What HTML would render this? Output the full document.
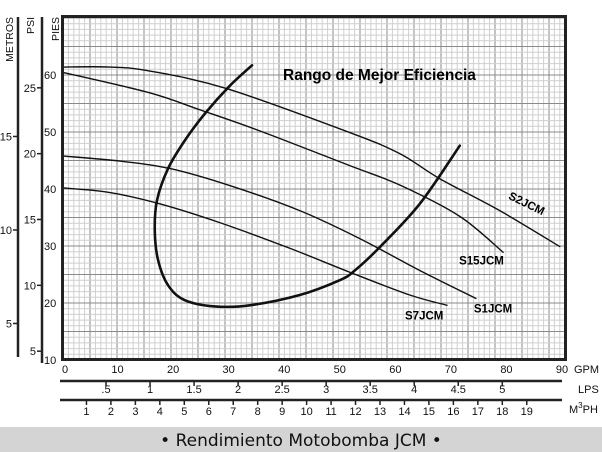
<!DOCTYPE html>
<html><head><meta charset="utf-8"><style>
body{margin:0;background:#fff;width:602px;height:452px;overflow:hidden}
svg{display:block;font-family:"Liberation Sans",sans-serif}
</style></head><body>
<svg id="c" width="602" height="452" viewBox="0 0 602 452">
<g id="grid"></g>
<g id="curves"></g>
<rect x="62.5" y="16.5" width="503" height="343" fill="none" stroke="#222" stroke-width="3"/>
<text x="283" y="80" font-size="15.5" font-weight="bold" fill="#000">Rango de Mejor Eficiencia</text>
<g id="axes"></g>
<rect x="0" y="427" width="602" height="25" fill="#d4d4d4"/>
<text x="301" y="446" font-size="17" text-anchor="middle" font-family="'DejaVu Sans',sans-serif" fill="#111">• Rendimiento Motobomba JCM •</text>
</svg>
<script>
const gpmTicks=[0,10,20,30,40,50,60,70,80,90];
const lpsTicks=[0.5,1,1.5,2,2.5,3,3.5,4,4.5,5];
const lpsLabels=[".5","1","1.5","2","2.5","3","3.5","4","4.5","5"];
const m3phTicks=[1,2,3,4,5,6,7,8,9,10,11,12,13,14,15,16,17,18,19];
const piesTicks=[10,20,30,40,50,60];
const psiTicks=[5,10,15,20,25];
const metrosTicks=[5,10,15];
const seriesNames=["S2JCM","S15JCM","S1JCM","S7JCM"];
const s2Gpm=[0,8.6,15.8,29.7,51.8,60.8,68,78.8,89.6];
const s2Ft=[61.4,61.4,60.7,57.6,49.9,46.2,41.8,36.2,29.9];
const s15Gpm=[0,15.7,24.8,35.6,51.8,60.8,71.6,79.4];
const s15Ft=[60.5,56.9,53.9,50.2,44.1,40.7,35.2,28.9];
const s1Gpm=[0,10.4,19.4,30.2,42.8,53.6,64.4,74.5];
const s1Ft=[45.8,44.9,43.6,40.6,36.2,31.3,25.7,20.8];
const s7Gpm=[0,8.5,17.6,28.4,41,51.8,62.6,69.3];
const s7Ft=[40.2,39.4,37.4,34.1,29.6,25.4,21.4,19.6];
const effGpm=[34.2,30.2,25.7,22.1,19.1,17.1,16.7,17.3,19.1,22.1,27.5,33.8,42.8,50,52.7,57.2,64.4,71.6];
const effFt=[61.7,58.1,53.2,48.5,43.6,38,32.7,27.5,23.1,20.5,19.4,19.6,21.4,24,25.7,29.8,37.4,47.6];

const NS="http://www.w3.org/2000/svg";
const X0=62,X1=562,Y0=360,Y1=18;
const xG=g=>X0+g*(X1-X0)/90;
const yF=f=>Y0-(f-10)*(Y0-Y1)/60;
const xL=l=>xG(l*15.85);
const xM=m=>xG(m*4.403);
const yPsi=p=>yF(p*2.31);
const yM=m=>yF(m*3.281);
function el(t,a,p){const e=document.createElementNS(NS,t);for(const k in a)e.setAttribute(k,a[k]);p.appendChild(e);return e;}
const grid=document.getElementById('grid'),curves=document.getElementById('curves'),axes=document.getElementById('axes');
// grid
for(let i=0;i*5.4<=503;i++){const x=63+i*5.4;const mj=i%5===0;
 const l=el('line',{x1:x,x2:x,y1:17,y2:359,stroke:mj?'#8a8a8a':'#cfcfcf','stroke-width':1},grid);
 }
for(let f=10;f<=70;f++){const y=yF(f);const mj=f%5===0;
 const l=el('line',{x1:63,x2:565,y1:y,y2:y,stroke:mj?'#8a8a8a':'#cfcfcf','stroke-width':1},grid);
 }
function smooth(px){let d=`M${px[0][0]},${px[0][1]}`;for(let i=0;i<px.length-1;i++){const p0=px[i-1]||px[i],p1=px[i],p2=px[i+1],p3=px[i+2]||p2;
 d+=` C${p1[0]+(p2[0]-p0[0])/6},${p1[1]+(p2[1]-p0[1])/6} ${p2[0]-(p3[0]-p1[0])/6},${p2[1]-(p3[1]-p1[1])/6} ${p2[0]},${p2[1]}`;}return d;}
function curve(gs,fs,w,name){const pts=gs.map((g,i)=>[xG(g),yF(fs[i])]);
 const p=el('path',{d:smooth(pts),fill:'none',stroke:'#111','stroke-width':w,'stroke-linecap':'round'},curves);
 return pts;}
const sData=[[s2Gpm,s2Ft],[s15Gpm,s15Ft],[s1Gpm,s1Ft],[s7Gpm,s7Ft]];
const ends=sData.map((s,i)=>curve(s[0],s[1],1.4,'curve-'+seriesNames[i].toLowerCase()));
curve(effGpm,effFt,2.6,'best-efficiency-curve');
// series labels
const lblOff=[[-52,-48,26],[-44,12,0],[-2,14,0],[-42,14,0]];
ends.forEach((pts,i)=>{const e=pts[pts.length-1];const o=lblOff[i];
 const t=el('text',{x:e[0]+o[0],y:e[1]+o[1],'font-size':11.5,'font-weight':'bold',fill:'#000'},curves);
 if(o[2])t.setAttribute('transform',`rotate(${o[2]} ${e[0]+o[0]} ${e[1]+o[1]})`);
 t.textContent=seriesNames[i];
 });
// left axes
function axLine(x,y1,y2,name){const l=el('line',{x1:x,x2:x,y1:y1,y2:y2,stroke:'#222','stroke-width':2.5},axes);}
axLine(18,17,357,'metros-axis-line');axLine(42,17,363,'psi-axis-line');
function txt(x,y,s,size,anchor,name,rot){const t=el('text',{x:x,y:y,'font-size':size,'text-anchor':anchor,fill:'#111'},axes);if(rot)t.setAttribute('transform',`rotate(-90 ${x} ${y})`);t.textContent=s;return t;}
txt(13,17,'METROS',10.5,'end','metros-axis-title',true);
txt(34,17,'PSI',10.5,'end','psi-axis-title',true);
txt(59,17,'PIES',10.5,'end','pies-axis-title',true);
piesTicks.forEach(f=>txt(44,yF(f)+(f===10?4:4),String(f),11,'start','pies-tick-label'));
psiTicks.forEach(p=>{const y=yPsi(p);const l=el('line',{x1:37,x2:42,y1:y,y2:y,stroke:'#222','stroke-width':1.5},axes);txt(36,y+4,String(p),11,'end','psi-tick-label');});
metrosTicks.forEach(m=>{const y=yM(m);const l=el('line',{x1:13,x2:18,y1:y,y2:y,stroke:'#222','stroke-width':1.5},axes);txt(12,y+4,String(m),11,'end','metros-tick-label');});
// bottom axes
gpmTicks.forEach(g=>txt(xG(g),373,String(g),11,g===0?'start':'middle','gpm-tick-label'));
txt(574,373,'GPM',11,'start','gpm-axis-title');
const l1=el('line',{x1:60,x2:562,y1:381,y2:381,stroke:'#222','stroke-width':2.5},axes);
lpsTicks.forEach((v,i)=>{const x=xL(v);const t=el('line',{x1:x,x2:x,y1:381,y2:386,stroke:'#222','stroke-width':1.5},axes);txt(x,393,lpsLabels[i],11,'middle','lps-tick-label');});
txt(578,393,'LPS',11,'start','lps-axis-title');
const l2=el('line',{x1:60,x2:562,y1:400,y2:400,stroke:'#222','stroke-width':2.5},axes);
m3phTicks.forEach(v=>{const x=xM(v);const t=el('line',{x1:x,x2:x,y1:400,y2:405,stroke:'#222','stroke-width':1.5},axes);txt(x,415,String(v),11,'middle','m3ph-tick-label');});
const mt=txt(569,413,'M',11,'start','m3ph-axis-title');
const sup=el('tspan',{dy:-5,'font-size':8},mt);sup.textContent='3';
const ph=el('tspan',{dy:5},mt);ph.textContent='PH';
</script>
</body></html>
